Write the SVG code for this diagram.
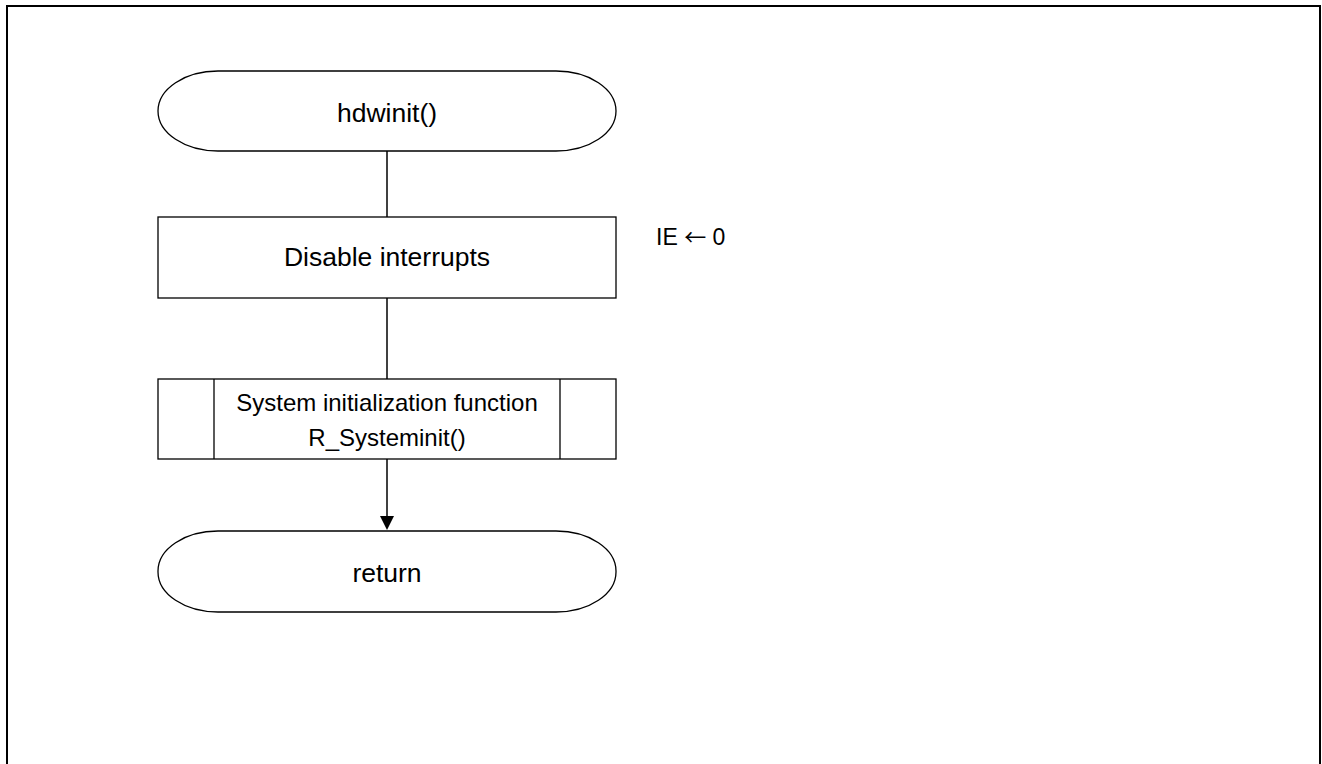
<svg xmlns="http://www.w3.org/2000/svg" width="1322" height="764" viewBox="0 0 1322 764">
<style>
.s{fill:#fff;stroke:#000;stroke-width:1.3}
.t{font-family:"Liberation Sans",Arial,sans-serif;font-size:26.5px;fill:#000;text-anchor:middle}
.c{stroke:#000;stroke-width:1.5;fill:none}
</style>
<rect x="7" y="6" width="1313" height="800" fill="none" stroke="#000" stroke-width="2"/>
<g id="connectors">
<line class="c" x1="387" y1="151" x2="387" y2="217"/>
<line class="c" x1="387" y1="298" x2="387" y2="379"/>
<line class="c" x1="387" y1="459" x2="387" y2="516"/>
<path d="M380,516 L394,516 L387,530 Z" fill="#000"/>
</g>
<g id="start">
<rect class="s" x="158" y="71" width="458" height="80" rx="60" ry="40"/>
<text class="t" x="387" y="122">hdwinit()</text>
</g>
<g id="disable">
<rect class="s" x="158" y="217" width="458" height="81"/>
<text class="t" x="387" y="266">Disable interrupts</text>
</g>
<g id="note">
<text x="656" y="245" style="font-family:'Liberation Sans',Arial,sans-serif;font-size:23px;fill:#000">IE <tspan style="font-family:'Noto Sans CJK JP',sans-serif;font-size:22px">←</tspan> 0</text>
</g>
<g id="sysinit">
<rect class="s" x="158" y="379" width="458" height="80"/>
<line class="s" x1="214" y1="379" x2="214" y2="459"/>
<line class="s" x1="560" y1="379" x2="560" y2="459"/>
<text class="t" x="387" y="411" style="font-size:24px">System initialization function</text>
<text class="t" x="387" y="446" style="font-size:24px">R_Systeminit()</text>
</g>
<g id="return">
<rect class="s" x="158" y="531" width="458" height="81" rx="60" ry="40"/>
<text class="t" x="387" y="582">return</text>
</g>
</svg>
